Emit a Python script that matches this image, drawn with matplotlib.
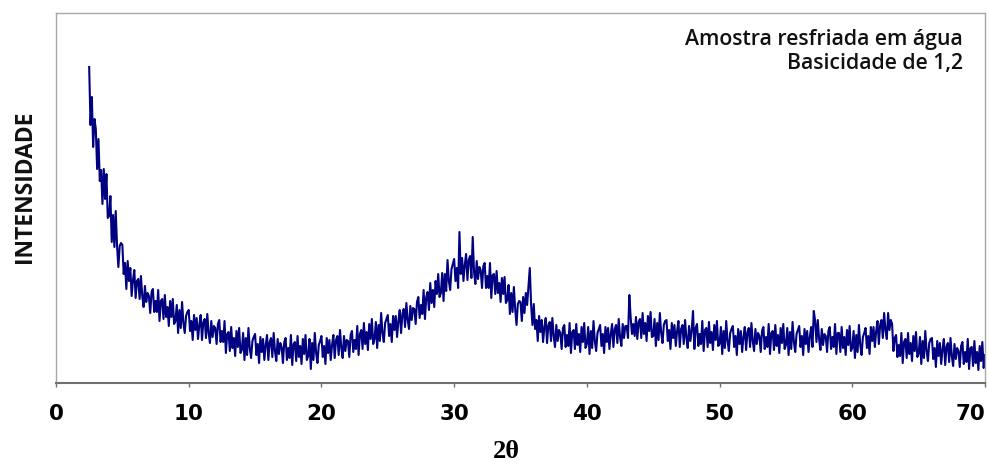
import numpy as np
import matplotlib
matplotlib.use("Agg")
import matplotlib.pyplot as plt

# difratograma: 2theta de 2,5 a 70 com passo de 0,1 (intensidade em unidades arbitrarias)
theta_start = 2.5
theta_step = 0.1

intensity = [
    316, 258, 286, 236, 264,
    254, 214, 244, 202, 213, 179, 214, 184, 209, 165,   # 3
    167, 187, 141, 168, 136, 172, 137, 116, 137, 140,   # 4
    138, 109, 120, 94, 122, 102, 115, 87, 103, 113,     # 5
    85, 102, 104, 84, 107, 87, 76, 97, 81, 90,          # 6
    87, 70, 91, 94, 71, 82, 71, 93, 62, 82,             # 7
    84, 64, 88, 66, 76, 57, 82, 66, 84, 59,             # 8
    62, 78, 50, 73, 55, 81, 60, 50, 67, 71,             # 9
    73, 52, 62, 43, 68, 53, 65, 44, 58, 68,             # 10
    43, 61, 64, 45, 69, 50, 40, 62, 46, 57,             # 11
    55, 39, 59, 63, 41, 52, 41, 62, 30, 49,             # 12
    51, 32, 56, 35, 45, 27, 52, 36, 55, 30,             # 13
    33, 50, 23, 45, 28, 55, 35, 25, 42, 46,             # 14
    49, 28, 39, 20, 46, 31, 44, 23, 38, 48,             # 15
    23, 41, 45, 26, 50, 32, 22, 44, 29, 40,             # 16
    36, 20, 41, 45, 23, 35, 25, 48, 18, 39,             # 17
    41, 22, 47, 26, 37, 19, 44, 29, 48, 23,             # 18
    27, 44, 14, 40, 23, 50, 30, 20, 38, 42,             # 19
    47, 26, 37, 19, 45, 30, 43, 23, 38, 48,             # 20
    25, 43, 47, 28, 53, 35, 25, 47, 32, 43,             # 21
    42, 26, 48, 52, 31, 43, 34, 57, 28, 49,             # 22
    53, 34, 60, 39, 51, 33, 59, 44, 64, 39,             # 23
    44, 61, 35, 58, 42, 70, 50, 41, 60, 64,             # 24
    68, 47, 59, 41, 67, 53, 67, 46, 62, 73,             # 25
    50, 69, 74, 56, 80, 63, 54, 77, 63, 75,             # 26
    74, 59, 81, 86, 65, 78, 69, 93, 64, 86,             # 27
    91, 73, 100, 80, 93, 76, 102, 89, 109, 86,          # 28
    90, 110, 82, 109, 92, 123, 102, 93, 114, 119,       # 29
    124, 102, 115, 95, 151, 109, 125, 102, 118, 129,    # 30
    103, 123, 127, 105, 146, 111, 99, 122, 104, 116,    # 31
    113, 95, 117, 120, 95, 107, 95, 120, 85, 108,       # 32
    109, 89, 112, 90, 100, 81, 105, 89, 106, 80,        # 33
    83, 98, 69, 90, 71, 96, 74, 58, 79, 82,             # 34
    81, 62, 86, 70, 90, 78, 97, 115, 78, 58,            # 35
    79, 54, 63, 42, 67, 51, 63, 41, 56, 65,             # 36
    40, 58, 61, 42, 65, 47, 36, 58, 42, 53,             # 37
    50, 34, 55, 58, 36, 48, 37, 60, 30, 51,             # 38
    53, 34, 59, 38, 49, 31, 56, 41, 60, 35,             # 39
    39, 56, 29, 52, 35, 62, 42, 32, 50, 54,             # 40
    58, 37, 49, 30, 56, 41, 55, 34, 49, 59,             # 41
    36, 54, 58, 40, 64, 46, 37, 59, 45, 57,             # 42
    57, 45, 88, 66, 49, 59, 47, 66, 44, 61,             # 43
    64, 45, 70, 49, 60, 42, 67, 52, 71, 46,             # 44
    47, 64, 37, 60, 43, 70, 50, 40, 58, 62,             # 45
    63, 42, 53, 34, 60, 45, 58, 37, 52, 62,             # 46
    36, 54, 58, 39, 63, 45, 35, 57, 42, 53,             # 47
    72, 34, 55, 59, 37, 49, 39, 62, 32, 53,             # 48
    55, 36, 61, 40, 51, 33, 58, 43, 62, 37,             # 49
    39, 56, 29, 52, 35, 62, 42, 32, 50, 54,             # 50
    57, 36, 47, 28, 54, 39, 52, 31, 46, 56,             # 51
    33, 51, 55, 36, 60, 42, 32, 54, 39, 50,             # 52
    47, 31, 52, 56, 34, 46, 36, 59, 29, 50,             # 53
    52, 33, 58, 37, 48, 30, 55, 40, 59, 34,             # 54
    38, 55, 28, 51, 34, 61, 41, 31, 49, 53,             # 55
    57, 36, 47, 28, 54, 39, 52, 31, 46, 56,             # 56
    36, 72, 62, 41, 63, 44, 33, 54, 38, 49,             # 57
    47, 31, 52, 56, 34, 46, 36, 59, 29, 50,             # 58
    50, 31, 56, 35, 46, 28, 53, 38, 57, 32,             # 59
    35, 52, 25, 48, 31, 58, 38, 28, 46, 50,             # 60
    55, 35, 47, 29, 56, 42, 56, 36, 52, 62,             # 61
    39, 58, 63, 45, 70, 53, 44, 70, 53, 63,             # 62
    59, 32, 45, 48, 26, 38, 27, 50, 20, 41,             # 63
    44, 25, 50, 29, 40, 22, 47, 32, 51, 26,             # 64
    29, 46, 19, 42, 25, 52, 32, 22, 40, 44,             # 65
    45, 24, 35, 16, 42, 27, 40, 19, 34, 44,             # 66
    18, 36, 40, 21, 45, 27, 17, 39, 24, 35,             # 67
    32, 16, 37, 41, 19, 31, 21, 44, 14, 35,             # 68
    36, 17, 42, 20, 31, 13, 37, 22, 41, 15,             # 69
    28,
]

x_ticks = [0, 10, 20, 30, 40, 50, 60, 70]
sample_lines = ["Amostra resfriada em água", "Basicidade de 1,2"]

two_theta = theta_start + theta_step * np.arange(len(intensity))

fig = plt.figure(figsize=(9.89, 4.66), dpi=100)
ax = fig.add_axes([56 / 989, 1 - 383 / 466, (985 - 56) / 989, 370 / 466])

ax.plot(two_theta, intensity, color="#000080", lw=1.5)

ax.set_xlim(0, 70)
ax.set_ylim(0, 370)
ax.set_xticks(x_ticks)
ax.set_yticks([])
ax.tick_params(axis="x", direction="out", length=3, width=1, color="#707070", pad=12)
for lab in ax.get_xticklabels():
    lab.set_fontsize(15.5)
    lab.set_fontweight("bold")
ax.get_xticklabels()[-1].set_horizontalalignment("right")
ax.get_xticklabels()[-1].set_x(70.1)

for s in ["left", "top", "right"]:
    ax.spines[s].set_color("#a8a8a8")
    ax.spines[s].set_linewidth(1.0)
ax.spines["bottom"].set_color("#707070")
ax.spines["bottom"].set_linewidth(1.5)

fig.text(506 / 989, 1 - 452 / 466, "2θ", fontsize=19, fontweight="bold",
         family=["Liberation Serif", "DejaVu Serif"], ha="center", va="center")
fig.text(25 / 989, 1 - 187 / 466, "INTENSIDADE", fontsize=16.5, rotation=90, fontweight="bold",
         family=["Open Sans", "DejaVu Sans"], ha="center", va="center", color="#111111")
for line, base_y in zip(sample_lines, [45, 69]):
    fig.text(963 / 989, 1 - base_y / 466, line, ha="right", va="baseline",
             fontsize=15.3, fontweight="semibold",
             family=["Open Sans", "DejaVu Sans"], color="#111111")

fig.savefig("out.png", dpi=100)
